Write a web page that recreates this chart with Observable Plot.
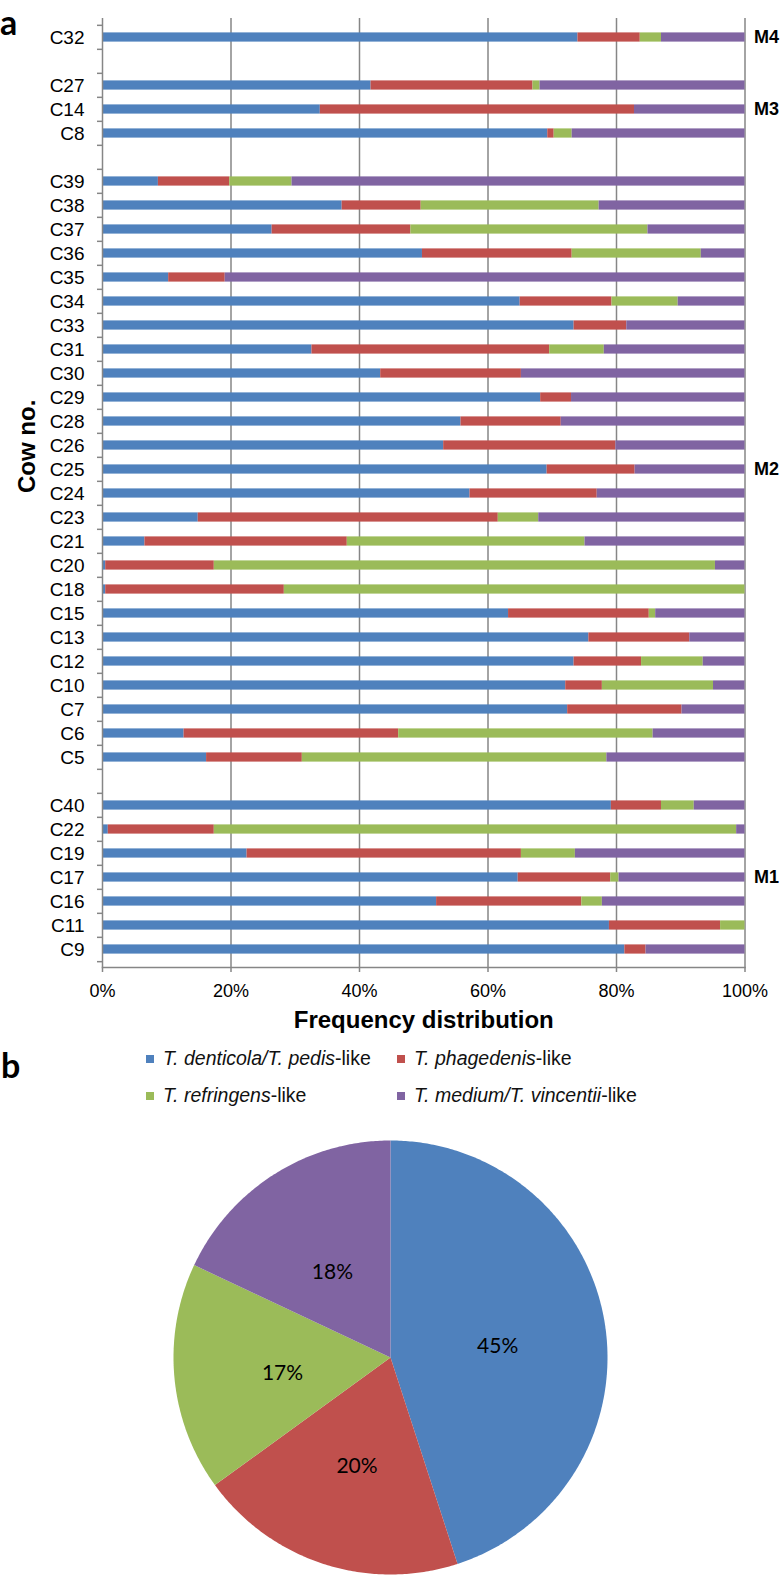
<!DOCTYPE html>
<html><head><meta charset="utf-8">
<script src="https://cdn.jsdelivr.net/npm/d3@7"></script>
<script src="https://cdn.jsdelivr.net/npm/@observablehq/plot@0.6"></script>
<style>
body{margin:0;background:#fff;}
#wrap{position:relative;width:780px;height:1589px;overflow:hidden;background:#fff;font-family:"Liberation Sans",Arial,sans-serif;}
.panel{position:absolute;font-family:Lato,"Open Sans",sans-serif;font-weight:bold;font-size:34px;line-height:41px;color:#000;}
.lg{position:absolute;font-size:19.5px;line-height:20px;color:#111;white-space:nowrap;}
.sw{position:absolute;width:8px;height:8px;}
</style></head>
<body><div id="wrap">
<div id="bar" style="position:absolute;left:0;top:0"></div>
<div id="pie" style="position:absolute;left:0;top:1136px"></div>
<div class="panel" style="left:0px;top:1px">a</div>
<div class="panel" style="left:1px;top:1044px">b</div>
<div id="legend"></div>
</div>
<script>
// ---- data ----
const species = ["T. denticola/T. pedis-like", "T. phagedenis-like", "T. refringens-like", "T. medium/T. vincentii-like"];
const colors = ["#4F81BD", "#C0504D", "#9BBB59", "#8064A2"];
const rowOrder = ["C32","gap1","C27","C14","C8","gap2","C39","C38","C37","C36","C35","C34","C33","C31","C30","C29","C28","C26","C25","C24","C23","C21","C20","C18","C15","C13","C12","C10","C7","C6","C5","gap3","C40","C22","C19","C17","C16","C11","C9"];
const cows = ["C32","C27","C14","C8","C39","C38","C37","C36","C35","C34","C33","C31","C30","C29","C28","C26","C25","C24","C23","C21","C20","C18","C15","C13","C12","C10","C7","C6","C5","C40","C22","C19","C17","C16","C11","C9"];
const denticolaPedis = [74.0,41.8,33.9,69.3,8.7,37.3,26.4,49.8,10.3,65.0,73.4,32.6,43.3,68.2,55.8,53.1,69.2,57.2,14.9,6.6,0.5,0.5,63.2,75.7,73.4,72.1,72.4,12.7,16.2,79.2,0.9,22.5,64.7,52.0,78.9,81.3];
const phagedenis = [9.7,25.2,48.9,1.0,11.1,12.3,21.6,23.3,8.8,14.3,8.2,37.0,21.9,4.8,15.6,26.8,13.7,19.8,46.7,31.5,16.9,27.8,21.9,15.7,10.5,5.7,17.8,33.4,14.9,7.8,16.5,42.7,14.4,22.6,17.3,3.3];
const refringens = [3.3,1.1,0,2.8,9.7,27.7,36.9,20.1,0,10.3,0,8.5,0,0,0,0,0,0,6.3,37.0,78.0,71.7,1.0,0,9.6,17.3,0,39.6,47.4,5.1,81.3,8.4,1.3,3.2,3.8,0];
const mediumVincentii = [13.0,31.9,17.2,26.9,70.5,22.7,15.1,6.8,80.9,10.4,18.4,21.9,34.8,27.0,28.6,20.1,17.1,23.0,32.1,24.9,4.6,0,13.9,8.6,6.5,4.9,9.8,14.3,21.5,7.9,1.3,26.4,19.6,22.2,0,15.4];
const xTicks = [0,20,40,60,80,100];
const groupLabels = ["M4","M3","M2","M1"];
const groupLabelRows = ["C32","C14","C25","C17"];
const pieShares = [45,20,17,18];

// ---- bar chart ----
const series = [denticolaPedis, phagedenis, refringens, mediumVincentii];
const table = cows.flatMap((c,i) => species.map((s,j) => ({cow:c, species:s, value:series[j][i]})));
const plotTop = 18, plotBottom = 967, svgH = 1040;
const bw = (plotBottom - plotTop) / rowOrder.length;
const grey = "#868686";

const bar = Plot.plot({
  width: 780, height: svgH,
  marginLeft: 102, marginRight: 35.5, marginTop: plotTop, marginBottom: svgH - plotBottom,
  style: {fontFamily: '"Liberation Sans", Arial, sans-serif', color: "#000", background: "#fff", overflow: "visible"},
  x: {domain: [0,100]},
  y: {domain: rowOrder, padding: 0},
  color: {domain: species, range: colors},
  marks: [
    Plot.gridX({ticks: xTicks.slice(1), stroke: grey, strokeOpacity: 1, strokeWidth: 1.5}),
    Plot.barX(table, Plot.stackX({x: "value", y: "cow", fill: "species", order: species, insetTop: 7.4, insetBottom: 7.4})),
    Plot.ruleX([0], {stroke: grey, strokeWidth: 1.5}),
    Plot.frame({anchor: "bottom", stroke: grey, strokeWidth: 1.5}),
    Plot.axisX({ticks: xTicks, tickFormat: d => d + "%", tickSize: 5, tickPadding: 12, fontSize: 18, stroke: grey, strokeWidth: 1.5, fill: "#000", label: null}),
    Plot.axisY({tickSize: 0, tickPadding: 18, fontSize: 19, fill: "#000", tickFormat: d => d.startsWith("gap") ? "" : d, label: null}),
    Plot.ruleY(rowOrder, {y: d => d, x1: 0, x2: 0, insetLeft: -5, dy: -bw/2, stroke: grey, strokeWidth: 1.5}),
    Plot.ruleY(rowOrder.slice(-1), {y: d => d, x1: 0, x2: 0, insetLeft: -5, dy: bw/2, stroke: grey, strokeWidth: 1.5}),
    Plot.text(groupLabelRows, {x: () => 100, y: d => d, text: (d,i) => groupLabels[i], dx: 9, textAnchor: "start", fontWeight: "bold", fontSize: 18, fill: "#000"}),
    Plot.text(["Frequency distribution"], {frameAnchor: "bottom", text: d => d, dy: 60, fontSize: 24, fontWeight: "bold", fill: "#000"}),
    Plot.text(["Cow no."], {frameAnchor: "left", text: d => d, dx: -75, rotate: -90, fontSize: 24, fontWeight: "bold", fill: "#000"})
  ]
});
document.getElementById("bar").append(bar);

// ---- legend ----
const legendPos = [[146, 1059], [397, 1059], [146, 1096], [397, 1096]];
const lg = document.getElementById("legend");
species.forEach((s, i) => {
  const [lx, ly] = legendPos[i];
  const sw = document.createElement("div");
  sw.className = "sw";
  sw.style.left = lx + "px"; sw.style.top = (ly - 4) + "px"; sw.style.background = colors[i];
  lg.append(sw);
  const t = document.createElement("div");
  t.className = "lg";
  t.style.left = (lx + 17) + "px"; t.style.top = (ly - 11) + "px";
  const k = s.lastIndexOf("-like");
  const it = document.createElement("i"); it.textContent = s.slice(0, k);
  t.append(it, document.createTextNode(s.slice(k)));
  lg.append(t);
});

// ---- pie chart ----
const arcs = d3.pie().sort(null).value(d => d)(pieShares);
const piePts = [];
const pieLabels = [];
arcs.forEach((a, i) => {
  const n = Math.max(2, Math.ceil((a.endAngle - a.startAngle) / 0.01));
  piePts.push({species: species[i], x: 0, y: 0});
  for (let k = 0; k <= n; k++) {
    const t = a.startAngle + (a.endAngle - a.startAngle) * k / n;
    piePts.push({species: species[i], x: Math.sin(t), y: Math.cos(t)});
  }
  piePts.push({species: species[i], x: 0, y: 0});
  const m = (a.startAngle + a.endAngle) / 2;
  pieLabels.push({x: 0.5 * Math.sin(m), y: 0.5 * Math.cos(m), text: pieShares[i] + "%"});
});
const pie = Plot.plot({
  width: 780, height: 442,
  marginLeft: 173, marginRight: 173, marginTop: 4, marginBottom: 4,
  style: {background: "transparent"},
  x: {domain: [-1,1], axis: null},
  y: {domain: [-1,1], axis: null},
  color: {domain: species, range: colors},
  marks: [
    Plot.line(piePts, {x: "x", y: "y", z: "species", fill: "species", stroke: "none"}),
    Plot.text(pieLabels, {x: "x", y: "y", text: "text", dy: 6, fontSize: 21, fontFamily: "Lato, 'Open Sans', sans-serif", fill: "#000"})
  ]
});
document.getElementById("pie").append(pie);
</script>
</body></html>
